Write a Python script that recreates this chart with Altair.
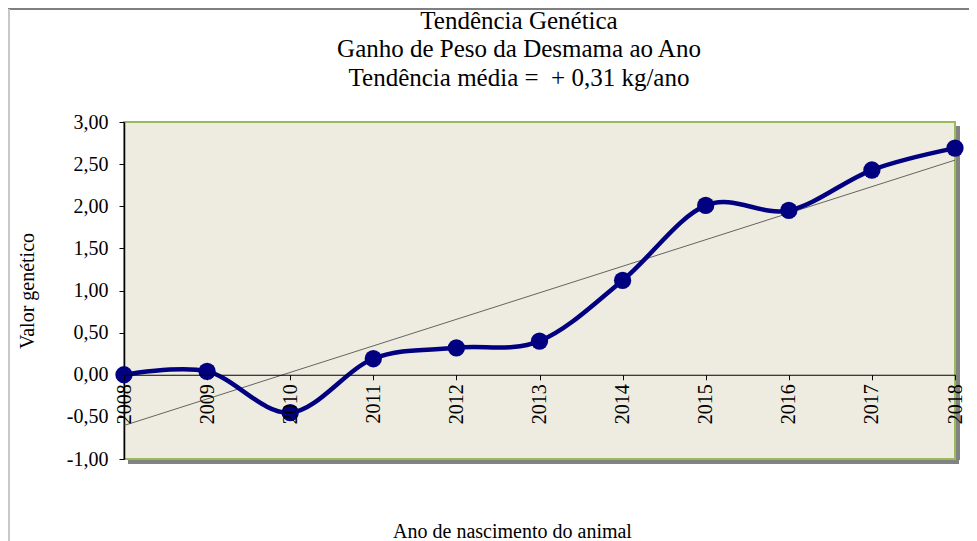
import altair as alt
import pandas as pd

years = [2008, 2009, 2010, 2011, 2012, 2013, 2014, 2015, 2016, 2017, 2018]
values = [0.00, 0.04, -0.45, 0.19, 0.32, 0.40, 1.12, 2.01, 1.95, 2.43, 2.69]
y_ticks = [-1.0, -0.5, 0.0, 0.5, 1.0, 1.5, 2.0, 2.5, 3.0]
title_lines = ["Tendência Genética", "Ganho de Peso da Desmama ao Ano", "Tendência média =\u00a0 + 0,31 kg/ano"]

df = pd.DataFrame({"year": years, "value": values})

W, H = 831, 337
FONT = "Liberation Serif"

x_scale = alt.Scale(domain=[2008, 2018], nice=False, zero=False)
y_scale = alt.Scale(domain=[-1, 3], nice=False, zero=False)

x_axis = alt.Axis(
    values=years, format="d", labelAngle=270, offset=-H / 4,
    labelFont=FONT, labelFontSize=20, labelColor="black",
    labelOverlap=False, labelFlush=False, labelPadding=4,
    tickColor="black", tickSize=5, domainColor="black", domainWidth=1,
    grid=False, title="Ano de nascimento do animal",
    titleFont=FONT, titleFontSize=20, titleFontWeight="normal", titleColor="black",
    titleX=388, titleY=163, titleBaseline="alphabetic", titleAlign="center",
    zindex=1,
)
y_axis = alt.Axis(
    values=y_ticks,
    labelExpr="replace(replace(format(datum.value, '.2f'), '.', ','), '\u2212', '-')",
    labelFont=FONT, labelFontSize=20, labelColor="black", labelPadding=11,
    tickColor="black", tickSize=5, domainColor="black", domainWidth=1.5,
    grid=False, title="Valor genético",
    titleFont=FONT, titleFontSize=20, titleFontWeight="normal", titleColor="black",
    titlePadding=29,
)

base = alt.Chart(df)

frame_top = base.mark_rule(color="#7f7f7f", strokeWidth=1.5).encode(
    x=alt.value(-116), x2=alt.value(W + 40), y=alt.value(-113)
)
frame_left = base.mark_rule(color="#c8c8c8", strokeWidth=2).encode(
    x=alt.value(-115), y=alt.value(-113), y2=alt.value(H + 100)
)
shadow_bottom = base.mark_rule(color="#808080", strokeWidth=4, opacity=0.3).encode(
    x=alt.value(4), x2=alt.value(W + 4), y=alt.value(H + 3)
)
shadow_right = base.mark_rule(color="#808080", strokeWidth=4, opacity=0.3).encode(
    x=alt.value(W + 3), y=alt.value(4), y2=alt.value(H + 1)
)

title_y = [-93.5, -65, -36.5]
title_layers = [
    alt.Chart(df.head(1)).mark_text(
        font=FONT, fontSize=25, color="black", align="center", baseline="alphabetic"
    ).encode(x=alt.value(W / 2 - 20.5), y=alt.value(ty), text=alt.value(t))
    for t, ty in zip(title_lines, title_y)
]

trend = base.transform_regression(
    "year", "value", method="linear", extent=[2008, 2018]
).mark_line(color="#404040", strokeWidth=0.8).encode(
    x=alt.X("year:Q", scale=x_scale, axis=x_axis),
    y=alt.Y("value:Q", scale=y_scale, axis=y_axis),
)

line = base.mark_line(color="#000080", strokeWidth=4.5, interpolate="cardinal", tension=0).encode(
    x=alt.X("year:Q", scale=x_scale),
    y=alt.Y("value:Q", scale=y_scale),
)

points = base.mark_point(filled=True, color="#000080", size=300, opacity=1).encode(
    x=alt.X("year:Q", scale=x_scale),
    y=alt.Y("value:Q", scale=y_scale),
)

chart = alt.layer(
    frame_top, frame_left, shadow_bottom, shadow_right, *title_layers, trend, line, points
).properties(
    width=W, height=H,
    autosize=alt.AutoSizeParams(type="none"),
    padding={"left": 116, "top": 114, "right": 14, "bottom": 82},
).configure(
    font=FONT
).configure_text(
    font=FONT
).configure_view(
    fill="#EEECE1", stroke="#9BBB59", strokeWidth=2
)

chart.save("out.html", embed_options={"renderer": "svg", "actions": False})
